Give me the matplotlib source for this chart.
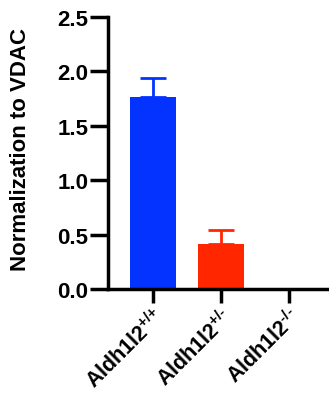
import numpy as np
import matplotlib
matplotlib.use("Agg")
import matplotlib.pyplot as plt

groups = [r"$\mathbf{Aldh1l2}^{\mathbf{{+}/{+}}}$",
          r"$\mathbf{Aldh1l2}^{\mathbf{{+}/}\text{-}}$",
          r"$\mathbf{Aldh1l2}^{\text{-}\mathbf{/}\text{-}}$"]
means = [1.765, 0.415, 0.0]
errors = [0.175, 0.125, 0.0]
colors = ["#0433FF", "#FF2600", "#000000"]
yticks = [0.0, 0.5, 1.0, 1.5, 2.0, 2.5]

plt.rcParams["font.family"] = "Liberation Sans"
plt.rcParams["font.weight"] = "bold"
plt.rcParams["mathtext.fontset"] = "custom"
plt.rcParams["mathtext.bf"] = "Liberation Sans:bold"
plt.rcParams["mathtext.rm"] = "Liberation Sans:bold"

fig = plt.figure(figsize=(3.29, 4.02), dpi=100)
ax = fig.add_axes([108 / 329, 112 / 402, 221 / 329, 272 / 402])

x = np.arange(len(groups))
for i in range(len(groups)):
    if means[i] > 0:
        ax.bar(x[i], means[i], width=0.675, color=colors[i], zorder=2)
        ax.errorbar(x[i], means[i], yerr=[[0], [errors[i]]], color=colors[i],
                    capsize=9.5, elinewidth=2, capthick=2, zorder=1)

ax.set_xlim(-0.66, 2.59)
ax.set_ylim(0, 2.5)
ax.set_yticks(yticks)
ax.set_yticklabels([f"{v:.1f}" for v in yticks], fontsize=16, fontweight="bold")
ax.set_xticks(x)
ax.set_xticklabels(groups, fontsize=15.5, rotation=45, ha="right", rotation_mode="anchor")

ax.spines["top"].set_visible(False)
ax.spines["right"].set_visible(False)
ax.spines["left"].set_linewidth(2.5)
ax.spines["bottom"].set_linewidth(2.5)
ax.tick_params(axis="y", length=13, width=2.5, pad=1)
ax.tick_params(axis="x", length=10, width=2.5, pad=1)

ax.set_ylabel("Normalization to VDAC", fontsize=16, fontweight="bold")
ax.yaxis.set_label_coords(-0.35, 0.518)

fig.savefig("out.png", dpi=100)
